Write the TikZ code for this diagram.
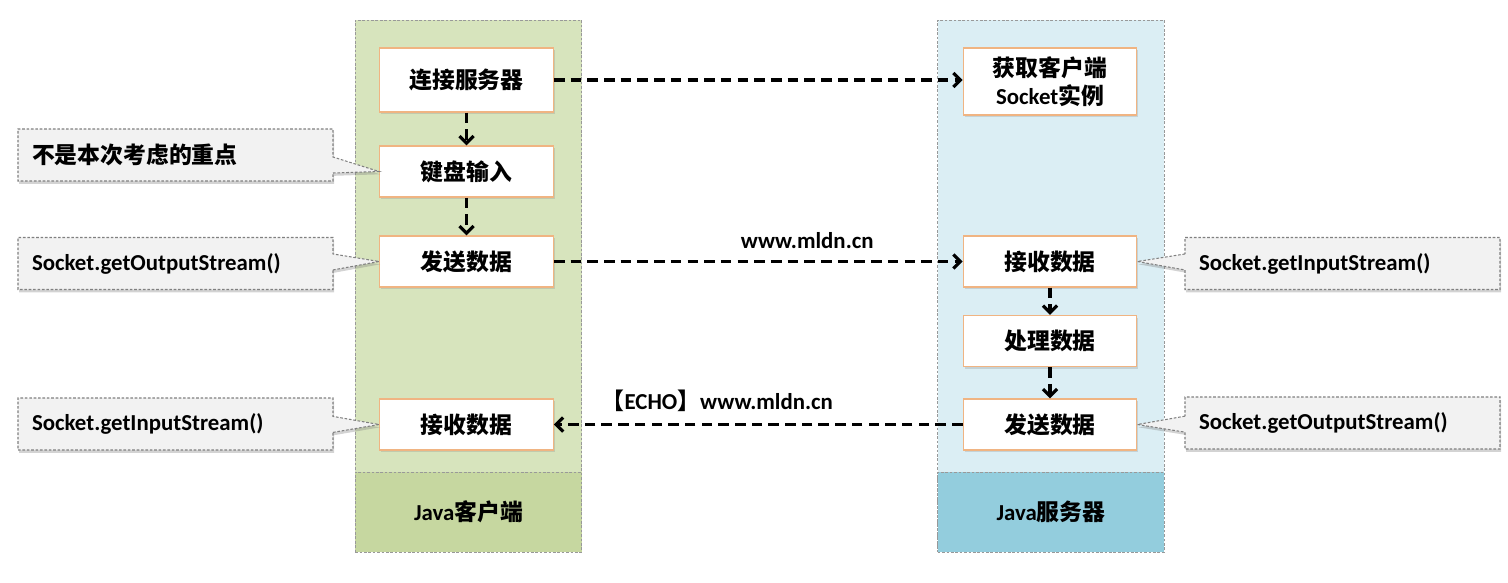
\documentclass[tikz,border=0pt]{standalone}
\usepackage{fontspec}
\setmainfont{Carlito}
\newfontfamily\cjk{Noto Sans CJK SC}
\usetikzlibrary{arrows.meta, positioning, shapes.callouts, shadows}
\definecolor{clientgreen}{RGB}{215,228,189}
\definecolor{clientdark}{RGB}{198,215,160}
\definecolor{serverblue}{RGB}{219,238,244}
\definecolor{serverdark}{RGB}{147,205,221}
\definecolor{boxline}{RGB}{240,180,130}
\definecolor{notegray}{RGB}{242,242,242}

\begin{document}
\begin{tikzpicture}[
  font=\fontsize{13}{16}\selectfont\bfseries,
  colbox/.style={draw=gray!80, dash pattern=on 1.5pt off 1pt, line width=0.5pt, minimum width=4.53cm},
  procbox/.style={draw=boxline, fill=white, line width=0.8pt, minimum width=3.47cm, minimum height=1.02cm, align=center,
    drop shadow={shadow xshift=0.8pt, shadow yshift=-1.2pt, opacity=0.25}},
  notebox/.style={rectangle callout, draw=gray, dash pattern=on 1.5pt off 1pt, line width=0.6pt, fill=notegray,
    text width=5.74cm, inner xsep=0.28cm, minimum height=1.04cm, align=left, callout pointer width=0.32cm,
    drop shadow={shadow xshift=0.6pt, shadow yshift=-1.6pt, opacity=0.35}},
  flow/.style={-{Straight Barb[length=4pt, width=8pt]}, line width=1.8pt, dash pattern=on 6pt off 3.5pt}
]
  \useasboundingbox (0,0) rectangle (30.16,-11.66);

  % columns
  \node[colbox, fill=clientgreen, minimum height=10.64cm] (client) at (9.37,-5.72) {};
  \node[colbox, fill=clientdark, minimum height=1.6cm] (clientlbl) at (9.37,-10.24) {Java{\cjk 客户端}};
  \node[colbox, fill=serverblue, minimum height=10.64cm] (server) at (21.02,-5.72) {};
  \node[colbox, fill=serverdark, minimum height=1.6cm] (serverlbl) at (21.02,-10.24) {Java{\cjk 服务器}};

  % client steps
  \node[procbox, minimum height=1.28cm] (b1) at (9.33,-1.60) {\cjk 连接服务器};
  \node[procbox] (b2) at (9.33,-3.43) {\cjk 键盘输入};
  \node[procbox] (b3) at (9.33,-5.23) {\cjk 发送数据};
  \node[procbox] (b4) at (9.33,-8.49) {\cjk 接收数据};

  % server steps
  \node[procbox, minimum height=1.34cm] (s1) at (21.00,-1.63) {{\cjk 获取客户端}\\Socket{\cjk 实例}};
  \node[procbox] (s2) at (21.00,-5.23) {\cjk 接收数据};
  \node[procbox] (s3) at (21.00,-6.82) {\cjk 处理数据};
  \node[procbox] (s4) at (21.00,-8.49) {\cjk 发送数据};

  % notes
  \node[notebox, callout absolute pointer={(b2.west)}] (n1) at (3.51,-3.10) {\cjk 不是本次考虑的重点};
  \node[notebox, callout absolute pointer={(b3.west)}] (n2) at (3.51,-5.27) {Socket.getOutputStream()};
  \node[notebox, callout absolute pointer={(b4.west)}] (n3) at (3.51,-8.48) {Socket.getInputStream()};
  \node[notebox, callout absolute pointer={(s2.east)}] (r1) at (26.85,-5.27) {Socket.getInputStream()};
  \node[notebox, callout absolute pointer={(s4.east)}] (r2) at (26.85,-8.46) {Socket.getOutputStream()};

  % flows
  \draw[flow] (b1) -- (b2);
  \draw[flow] (b2) -- (b3);
  \draw[flow] (s2) -- (s3);
  \draw[flow] (s3) -- (s4);
  \draw[flow] (b1.east) -- (b1.east -| s1.west);
  \draw[flow] (b3) -- node[pos=0.62, above=3pt] (url1) {www.mldn.cn} (s2);
  \draw[flow] (s4) -- node[pos=0.6, above=3pt] (url2) {{\cjk 【}ECHO{\cjk 】}www.mldn.cn} (b4);
\end{tikzpicture}
\end{document}
